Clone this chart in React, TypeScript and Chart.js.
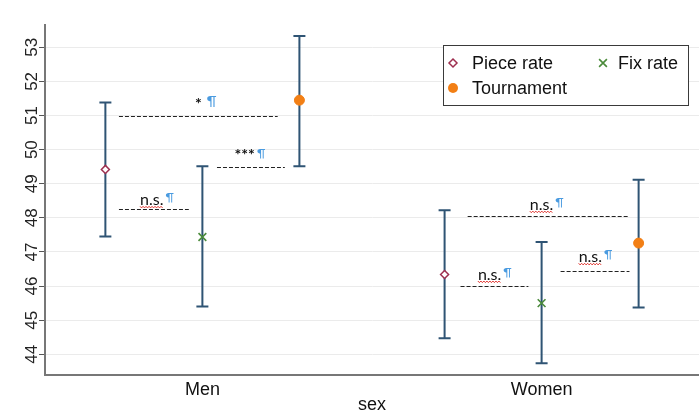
import React, { useEffect, useRef } from 'react';
import { Chart, registerables } from 'chart.js';

Chart.register(...registerables);

// ---- data ----
const categories = ['Men', 'Women'];
const seriesNames = ['Piece rate', 'Fix rate', 'Tournament'];

const pieceMean = [49.42, 46.34];
const pieceLow = [47.45, 44.47];
const pieceHigh = [51.38, 48.22];

const fixMean = [47.44, 45.5];
const fixLow = [45.4, 43.74];
const fixHigh = [49.51, 47.29];

const tournMean = [51.45, 47.26];
const tournLow = [49.51, 45.37];
const tournHigh = [53.33, 49.12];

const yTickValues = [44, 45, 46, 47, 48, 49, 50, 51, 52, 53];
const xAxisTitle = 'sex';

// significance annotations (data units)
const annLabels = ['*', '***', 'n.s.', 'n.s.', 'n.s.', 'n.s.'];
const annFrom = [0.754, 1.043, 0.754, 1.782, 1.761, 2.056];
const annTo = [1.222, 1.243, 0.96, 2.259, 1.961, 2.259];
const annLineY = [50.99, 49.49, 48.26, 48.06, 46.0, 46.44];
const annTextX = [1.01, 1.14, 0.866, 2.015, 1.862, 2.159];
const annTextY = [51.4, 49.9, 48.52, 48.38, 46.33, 46.85];

// ---- styling ----
const OFFSETS = [-0.286, 0, 0.286];
const FONT = 'Arial, "Liberation Sans", sans-serif';
const ANN_FONT = 'Lato, "Open Sans", sans-serif';
const BAR_COLOR = '#2f5474';
const MARKERS = [
  { pointStyle: 'rectRot', radius: 4, bg: '#ffffff', border: '#9e2f4f', bw: 1.5 },
  { pointStyle: 'crossRot', radius: 5.5, bg: '#4b8b3b', border: '#4b8b3b', bw: 1.6 },
  { pointStyle: 'circle', radius: 5, bg: '#f27f15', border: '#f27f15', bw: 1 },
];

const seriesMeans = [pieceMean, fixMean, tournMean];
const seriesLow = [pieceLow, fixLow, tournLow];
const seriesHigh = [pieceHigh, fixHigh, tournHigh];

function drawMarker(ctx: CanvasRenderingContext2D, i: number, x: number, y: number) {
  const m = MARKERS[i];
  ctx.save();
  ctx.lineWidth = m.bw;
  ctx.strokeStyle = m.border;
  ctx.fillStyle = m.bg;
  ctx.beginPath();
  if (m.pointStyle === 'rectRot') {
    const r = m.radius;
    ctx.moveTo(x, y - r);
    ctx.lineTo(x + r, y);
    ctx.lineTo(x, y + r);
    ctx.lineTo(x - r, y);
    ctx.closePath();
    ctx.fill();
    ctx.stroke();
  } else if (m.pointStyle === 'crossRot') {
    const r = m.radius * Math.SQRT1_2;
    ctx.moveTo(x - r, y - r);
    ctx.lineTo(x + r, y + r);
    ctx.moveTo(x + r, y - r);
    ctx.lineTo(x - r, y + r);
    ctx.stroke();
  } else {
    ctx.arc(x, y, m.radius, 0, Math.PI * 2);
    ctx.fill();
  }
  ctx.restore();
}

const errorBarsPlugin = {
  id: 'errorBars',
  beforeDatasetsDraw(chart: any) {
    const { ctx, scales } = chart;
    const xs = scales.x;
    const ys = scales.y;
    ctx.save();
    ctx.strokeStyle = BAR_COLOR;
    ctx.lineWidth = 2;
    seriesNames.forEach((_, i) => {
      categories.forEach((__, j) => {
        const px = xs.getPixelForValue(j + 1 + OFFSETS[i]);
        const lo = ys.getPixelForValue(seriesLow[i][j]);
        const hi = ys.getPixelForValue(seriesHigh[i][j]);
        ctx.beginPath();
        ctx.moveTo(px, lo);
        ctx.lineTo(px, hi);
        ctx.moveTo(px - 6, lo);
        ctx.lineTo(px + 6, lo);
        ctx.moveTo(px - 6, hi);
        ctx.lineTo(px + 6, hi);
        ctx.stroke();
      });
    });
    ctx.restore();
  },
};

const annotationsPlugin = {
  id: 'sigAnnotations',
  afterDatasetsDraw(chart: any) {
    const { ctx, scales } = chart;
    const xs = scales.x;
    const ys = scales.y;
    ctx.save();
    annLabels.forEach((label, k) => {
      // dashed line
      const x1 = xs.getPixelForValue(annFrom[k]);
      const x2 = xs.getPixelForValue(annTo[k]);
      const ly = Math.round(ys.getPixelForValue(annLineY[k])) + 0.5;
      ctx.setLineDash([4, 2]);
      ctx.strokeStyle = '#222';
      ctx.lineWidth = 1;
      ctx.beginPath();
      ctx.moveTo(x1, ly);
      ctx.lineTo(x2, ly);
      ctx.stroke();
      ctx.setLineDash([]);

      // label text + pilcrow
      const cx = xs.getPixelForValue(annTextX[k]);
      const cy = ys.getPixelForValue(annTextY[k]);
      const isStar = label.indexOf('*') >= 0;
      const textFont = isStar ? 'bold 16px ' + ANN_FONT : '16px ' + ANN_FONT;
      const pilFont = (label === '*' ? '14px ' : '12px ') + ANN_FONT;
      ctx.font = textFont;
      const w1 = ctx.measureText(label).width;
      ctx.font = pilFont;
      const w2 = ctx.measureText('¶').width;
      const gap = label === '*' ? 5 : 2;
      const start = cx - (w1 + gap + w2) / 2;
      ctx.textAlign = 'left';
      ctx.textBaseline = 'middle';
      ctx.fillStyle = '#111';
      ctx.font = textFont;
      ctx.fillText(label, start, cy + (isStar ? 2 : 0));
      ctx.fillStyle = '#4a9be0';
      ctx.font = pilFont;
      ctx.fillText('¶', start + w1 + gap, cy - (isStar ? 0 : 3));

      if (!isStar) {
        // red wavy spell-check underline
        ctx.strokeStyle = '#e0302a';
        ctx.lineWidth = 1;
        ctx.beginPath();
        const uy = cy + 7;
        let up = true;
        for (let xx = start; xx <= start + w1; xx += 1.5) {
          const yy = uy + (up ? -0.8 : 0.8);
          if (xx === start) ctx.moveTo(xx, yy);
          else ctx.lineTo(xx, yy);
          up = !up;
        }
        ctx.stroke();
      }
    });
    ctx.restore();
  },
};

const legendPlugin = {
  id: 'customLegend',
  afterDraw(chart: any) {
    const { ctx, chartArea } = chart;
    const left = chartArea.right - 256;
    const top = chartArea.top + 20;
    const w = 245;
    const h = 60;
    ctx.save();
    ctx.fillStyle = '#ffffff';
    ctx.fillRect(left, top, w, h);
    ctx.strokeStyle = '#3a3a3a';
    ctx.lineWidth = 1;
    ctx.strokeRect(Math.round(left) + 0.5, Math.round(top) + 0.5, w, h);
    const spots = [
      { x: left + 10, y: top + 18 },
      { x: left + 160, y: top + 18 },
      { x: left + 10, y: top + 43 },
    ];
    ctx.font = '18px ' + FONT;
    ctx.textAlign = 'left';
    ctx.textBaseline = 'middle';
    chart.data.datasets.forEach((ds: any, i: number) => {
      const s = spots[i];
      drawMarker(ctx, i, s.x, s.y);
      ctx.fillStyle = '#111';
      ctx.fillText(ds.label, s.x + (i === 1 ? 15 : 19), s.y + 1);
    });
    ctx.restore();
  },
};

export default function App() {
  const ref = useRef<HTMLCanvasElement>(null);

  useEffect(() => {
    const canvas = ref.current;
    if (!canvas) return;

    const datasets = seriesNames.map((name, i) => ({
      label: name,
      data: categories.map((_, j) => ({ x: j + 1 + OFFSETS[i], y: seriesMeans[i][j] })),
      showLine: false,
      pointStyle: MARKERS[i].pointStyle,
      pointRadius: MARKERS[i].radius,
      pointBackgroundColor: MARKERS[i].bg,
      pointBorderColor: MARKERS[i].border,
      pointBorderWidth: MARKERS[i].bw,
      pointHoverRadius: MARKERS[i].radius,
    }));

    const chart = new Chart(canvas, {
      type: 'scatter',
      data: { datasets },
      options: {
        animation: false,
        responsive: false,
        devicePixelRatio: 1,
        layout: { autoPadding: false, padding: { top: 25, right: -7, left: 0, bottom: 0 } },
        plugins: {
          legend: { display: false },
          tooltip: { enabled: false },
        },
        scales: {
          x: {
            type: 'linear',
            min: 0.536,
            max: 2.464,
            afterBuildTicks: (scale: any) => {
              scale.ticks = categories.map((_, i) => ({ value: i + 1 }));
            },
            afterFit: (scale: any) => {
              scale.height = 39;
              scale.paddingLeft = 0;
              scale.paddingRight = 0;
            },
            grid: { display: false, drawTicks: false },
            border: { display: true, color: '#777', width: 2 },
            ticks: {
              autoSkip: false,
              maxRotation: 0,
              padding: 4,
              color: '#111',
              font: { family: FONT, size: 18 },
              callback: (v: any) => categories[Math.round(Number(v)) - 1] ?? '',
            },
            title: {
              display: true,
              text: xAxisTitle,
              color: '#111',
              font: { family: FONT, size: 18, lineHeight: 1 },
              padding: { top: 0, bottom: 0 },
            },
          },
          y: {
            type: 'linear',
            min: 43.393,
            max: 53.654,
            afterBuildTicks: (scale: any) => {
              scale.ticks = yTickValues.map((v) => ({ value: v }));
            },
            afterFit: (scale: any) => {
              scale.width = 45;
            },
            grid: {
              color: '#ebebeb',
              lineWidth: 1,
              tickColor: '#555',
              tickLength: 6,
              drawTicks: true,
            },
            border: { display: true, color: '#777', width: 2 },
            ticks: {
              autoSkip: false,
              includeBounds: false,
              minRotation: 90,
              maxRotation: 90,
              crossAlign: 'center',
              padding: -3,
              color: '#222',
              font: { family: FONT, size: 17 },
            },
          },
        },
      },
      plugins: [errorBarsPlugin, annotationsPlugin, legendPlugin],
    } as any);

    return () => chart.destroy();
  }, []);

  return (
    <div style={{ position: 'fixed', left: 0, top: 0, width: 699, height: 414, background: '#fff' }}>
      <canvas ref={ref} width={699} height={414} style={{ display: 'block', width: 699, height: 414 }} />
    </div>
  );
}
